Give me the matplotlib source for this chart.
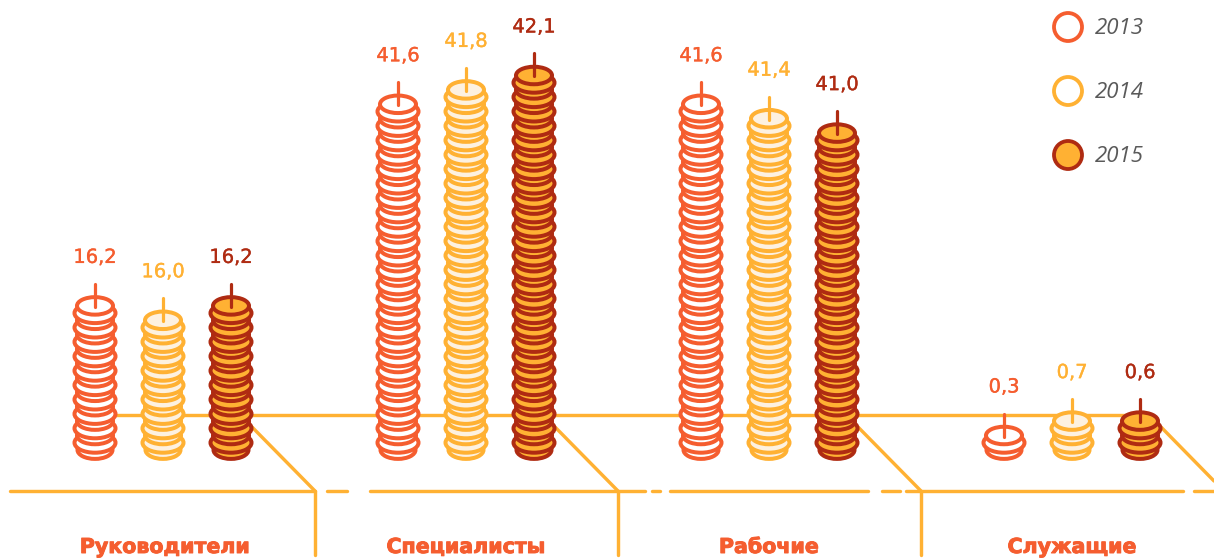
import matplotlib
matplotlib.use('Agg')
import matplotlib.pyplot as plt
import matplotlib.patheffects as pe
from matplotlib.patches import Ellipse, Circle

categories = ['Руководители', 'Специалисты', 'Рабочие', 'Служащие']
years = ['2013', '2014', '2015']
values_2013 = ['16,2', '41,6', '41,6', '0,3']
values_2014 = ['16,0', '41,8', '41,4', '0,7']
values_2015 = ['16,2', '42,1', '41,0', '0,6']
# number of coins in each stack, counted on the picture
coins_2013 = [10, 24, 24, 1]
coins_2014 = [9, 25, 23, 2]
coins_2015 = [10, 26, 22, 2]

ORANGE = '#F55D2F'
AMBER = '#FFB133'
BROWN = '#AF2B12'
series = [
    (values_2013, coins_2013, ORANGE, '#FFFFFF'),
    (values_2014, coins_2014, AMBER, '#FDF1E0'),
    (values_2015, coins_2015, BROWN, AMBER),
]
PX = 72 / 100
LABEL_FONT = 'DejaVu Sans'

fig = plt.figure(figsize=(12.14, 5.59), dpi=100)
ax = fig.add_axes([0, 0, 1, 1])
ax.set_xlim(0, 1214)
ax.set_ylim(559, 0)
ax.axis('off')


def rail(xs, ys):
    ax.plot(xs, ys, color=AMBER, lw=3.4 * PX, solid_capstyle='round', zorder=1)


rail([95, 1140], [415, 415])
for a, b in [(10, 315), (327, 347), (370, 645), (652, 660), (670, 868), (882, 900),
             (906, 1183), (1194, 1214)]:
    rail([a, b], [491, 491])
for x in (315, 618, 921):
    rail([x, x], [491, 555])
    rail([x - 63, x], [427, 491])
rail([1161, 1214], [427, 481])

PITCH = 14.4
BASE = 442.7
STROKE = 4.0 * PX
z = 10
for g, cat in enumerate(categories):
    x0 = 95 + 303 * g
    for s, (vals, counts, edge, fill) in enumerate(series):
        x = x0 + 68 * s
        n = counts[g]
        z += 1
        ax.add_patch(Ellipse((x, BASE + 7.2), 35, 18, fc=fill, ec=edge, lw=STROKE, zorder=z))
        for k in range(n):
            y = BASE - k * PITCH
            z += 1
            ax.add_patch(Ellipse((x, y), 41, 20, fc=fill, ec=edge, lw=STROKE, zorder=z))
            z += 1
            ax.add_patch(Ellipse((x, y - 7.2), 36, 17.5, fc=fill, ec=edge, lw=STROKE, zorder=z))
        top = BASE - (n - 1) * PITCH - 7.2
        z += 1
        ax.plot([x, x], [top - 22, top + 1], color=edge, lw=3.2 * PX,
                solid_capstyle='round', zorder=z)
        ax.text(x, top - 48.5, vals[g], color=edge, fontsize=14, ha='center', va='center',
                family=LABEL_FONT, zorder=z,
                path_effects=[pe.withStroke(linewidth=0.25, foreground=edge)])
    ax.text(x0 + 70 if g == 0 else x0 + 68, 547, cat, color=ORANGE, fontsize=14.8,
            fontweight='bold', ha='center', va='center', family=LABEL_FONT,
            path_effects=[pe.withStroke(linewidth=0.7, foreground=ORANGE)])

legend_edges = [ORANGE, AMBER, BROWN]
legend_fills = ['#FFFFFF', '#FFFFFF', AMBER]
for i, yr in enumerate(years):
    y = 27 + 64 * i
    ax.add_patch(Circle((1068, y), 14, fc=legend_fills[i], ec=legend_edges[i], lw=3.8 * PX))
    ax.text(1095, y + 1.5, yr, color='#5A5A5A', fontsize=16, style='italic', ha='left',
            va='center', family='Open Sans')

fig.savefig('out.png', dpi=100)
